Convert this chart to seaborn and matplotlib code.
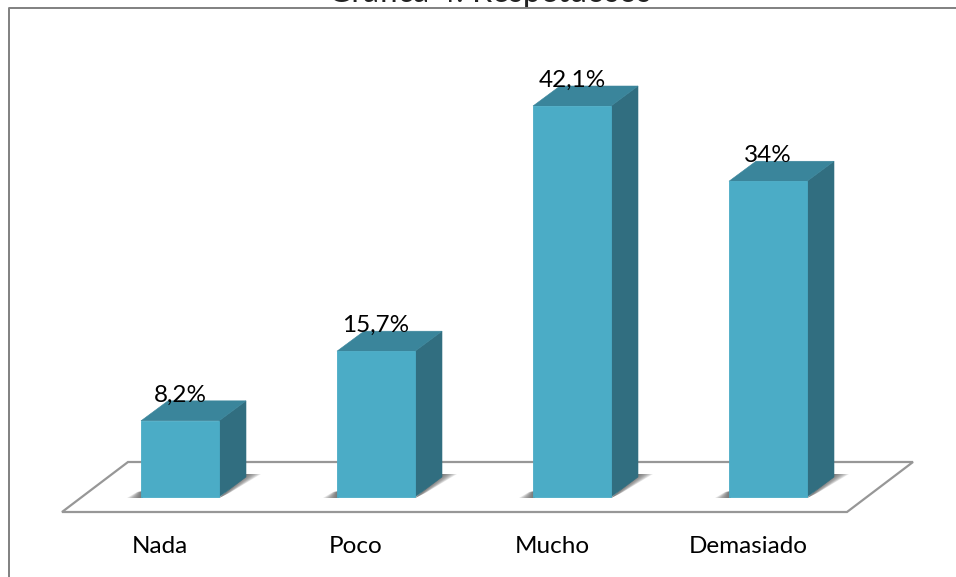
import numpy as np
import seaborn as sns
import matplotlib
matplotlib.use('Agg')
import matplotlib.pyplot as plt
from matplotlib.patches import Polygon

categorias = ['Nada', 'Poco', 'Mucho', 'Demasiado']
valores = [8.2, 15.7, 42.1, 34]
etiquetas = ['8,2%', '15,7%', '42,1%', '34%']
titulo = 'Gráfica 4: Respetuosos'

# escala de la imagen (pixeles)
ANCHO, ALTO = 956, 577
PX_X = 196.0        # pixeles entre categorias
PX_Y = 9.287        # pixeles por unidad
X0, Y0 = 180, 497   # pixel de la primera barra y de la base


def dx(p):
    return p / PX_X


def dy(p):
    return p / PX_Y


def xd(p):
    return (p - X0) / PX_X


def yd(p):
    return (Y0 - p) / PX_Y


sns.set_theme(style='white')
plt.rcParams['font.family'] = ['Lato', 'DejaVu Sans']

fig = plt.figure(figsize=(ANCHO / 100, ALTO / 100), dpi=100)
ax = fig.add_axes([0, 0, 1, 1])

# barras frontales
sns.barplot(x=categorias, y=valores, color='#4BACC6', saturation=1, width=78 / PX_X,
            ax=ax, zorder=5, edgecolor='#4BACC6', linewidth=0.6)
ax.set_xlim(xd(0), xd(ANCHO))
ax.set_ylim(yd(ALTO), yd(0))
ax.axis('off')

# suelo
suelo = [(62, 512), (847, 512), (913, 462), (128, 462)]
ax.add_patch(Polygon([(xd(a), yd(b)) for a, b in suelo], closed=True, facecolor='white',
                     edgecolor='#979797', linewidth=1.6, zorder=1))

prof_x, prof_y = dx(27), dy(20)
for i, barra in enumerate(ax.patches[:4]):
    izq = barra.get_x()
    der = izq + barra.get_width()
    alto = barra.get_height()

    # sombra sobre el suelo, de mas ancha y clara a mas estrecha y oscura
    for paso in np.linspace(1, 0.1, 10):
        forma = [(izq - dx(14) * paso, -dy(1)), (izq + dx(2), -dy(1)), (izq + dx(2), dy(6)),
                 (izq - dx(4) * paso, dy(5))]
        ax.add_patch(Polygon(forma, closed=True, facecolor='#555555', edgecolor='none',
                             alpha=0.13, zorder=2))
        forma = [(der, -dy(1)), (der + dx(12) * paso, -dy(1) + dy(6) * paso),
                 (der + prof_x + dx(15) * paso, prof_y + dy(3)), (der + prof_x, prof_y + dy(3))]
        ax.add_patch(Polygon(forma, closed=True, facecolor='#555555', edgecolor='none',
                             alpha=0.13, zorder=2))

    # cara lateral y cara superior
    ax.add_patch(Polygon([(der, 0), (der + prof_x, prof_y), (der + prof_x, alto + prof_y), (der, alto)],
                         closed=True, facecolor='#316E80', edgecolor='#316E80', linewidth=0.4, zorder=4))
    ax.add_patch(Polygon([(izq, alto), (der, alto), (der + prof_x, alto + prof_y), (izq + prof_x, alto + prof_y)],
                         closed=True, facecolor='#3A859B', edgecolor='#3A859B', linewidth=0.4, zorder=4))

    ax.text(i, alto + dy(19), etiquetas[i], ha='center', va='baseline', fontsize=17.5,
            color='black', zorder=6)
    ax.text(i - dx(20), yd(553), categorias[i], ha='center', va='baseline', fontsize=17.5,
            color='black', zorder=6)

# marco del grafico, solo se ve arriba y a la izquierda
ax.plot([xd(8.5), xd(8.5), xd(ANCHO)], [yd(ALTO), yd(7.5), yd(7.5)], color='#808080',
        linewidth=1.4, zorder=7)

# titulo recortado por el borde superior
ax.text(xd(490), yd(1.5), titulo, ha='center', va='baseline', fontsize=23, color='#222222',
        zorder=6)

fig.savefig('out.png', dpi=100)
